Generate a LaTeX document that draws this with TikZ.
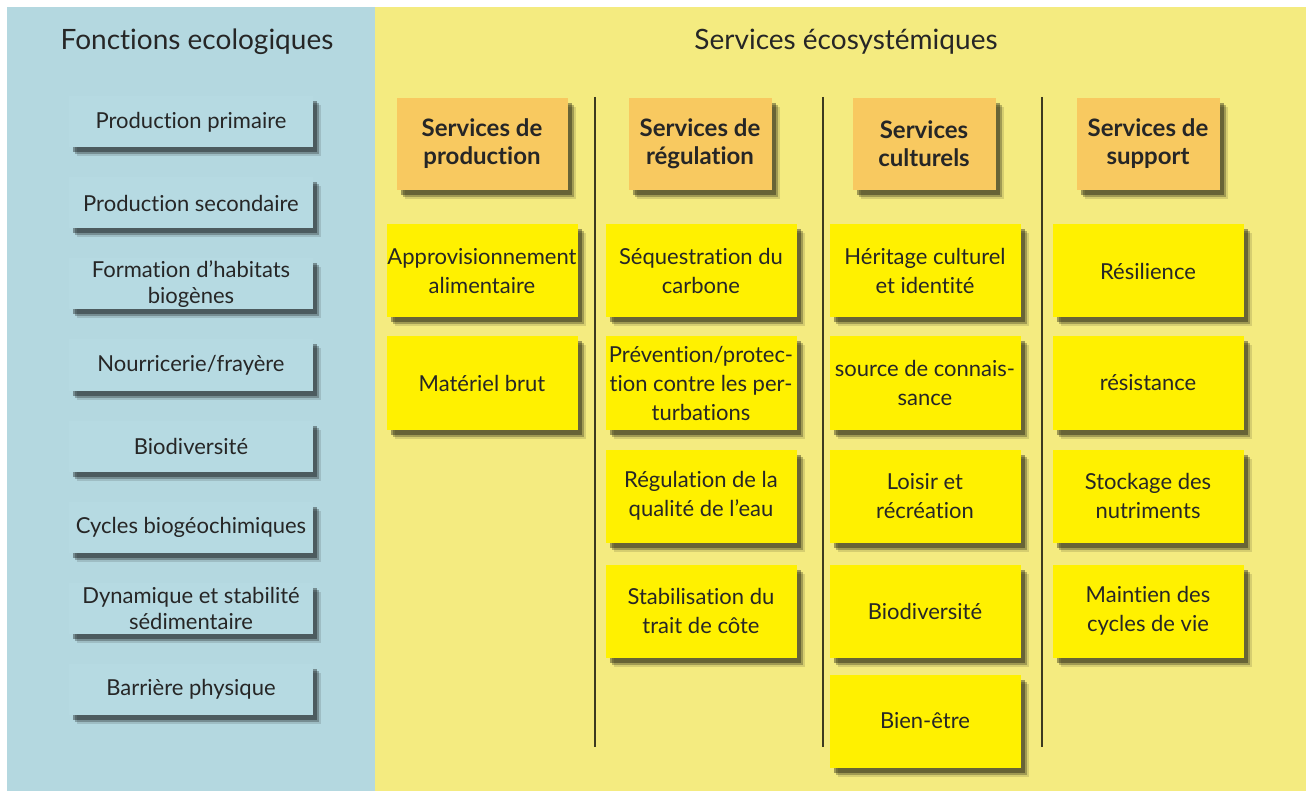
\documentclass[tikz,border=0pt]{standalone}
\usepackage{fontspec}
\setmainfont{Lato}[Ligatures={NoCommon}]
\usetikzlibrary{shadows}
\definecolor{bluebg}{HTML}{B4D8E0}
\definecolor{bluebox}{HTML}{B6DAE2}
\definecolor{yellowbg}{HTML}{F4EB80}
\definecolor{headbox}{HTML}{F8C960}
\definecolor{itembox}{HTML}{FFF100}
\definecolor{txt}{HTML}{262626}
\definecolor{sep}{HTML}{3C3A20}
\tikzset{
  softshadow/.style={
    drop shadow={shadow xshift=8pt, shadow yshift=-9pt, fill=black, opacity=0.12},
    drop shadow={shadow xshift=6pt, shadow yshift=-7pt, fill=black, opacity=0.25},
    drop shadow={shadow xshift=4pt, shadow yshift=-5pt, fill=black, opacity=0.35}},
  fbox/.style={softshadow, fill=bluebox, minimum width=244pt, minimum height=51pt,
    inner sep=0pt, align=center, text=txt, font=\fontsize{22}{26}\selectfont},
  hbox/.style={softshadow, fill=headbox, minimum width=143pt, minimum height=92pt,
    inner sep=0pt, align=center, text=txt, font=\bfseries\fontsize{24}{28}\selectfont},
  ibox/.style={softshadow, fill=itembox, minimum width=191pt, minimum height=93pt,
    inner sep=0pt, align=center, text=txt, font=\fontsize{22}{29}\selectfont},
  ptitle/.style={text=txt, font=\fontsize{28}{32}\selectfont, inner sep=0pt},
  sepline/.style={draw=sep, line width=2pt}
}
\begin{document}
\begin{tikzpicture}[x=1pt,y=-1pt]
\useasboundingbox (0,0) rectangle (1306,791);
\fill[white] (0,0) rectangle (1306,791);
\fill[bluebg] (7,7) rectangle (375,791);
\fill[yellowbg] (375,7) rectangle (1306,791);

\node[ptitle] (t1) at (197,42) {Fonctions ecologiques};
\node[ptitle] (t2) at (846,42) {Services écosystémiques};

\node[fbox] (f1) at (191,122) {Production primaire};
\node[fbox] (f2) at (191,203) {Production secondaire};
\node[fbox] (f3) at (191,284) {Formation d’habitats\\biogènes};
\node[fbox] (f4) at (191,365) {Nourricerie/frayère};
\node[fbox] (f5) at (191,446) {Biodiversité};
\node[fbox] (f6) at (191,527) {Cycles biogéochimiques};
\node[fbox] (f7) at (191,608) {Dynamique et stabilité\\sédimentaire};
\node[fbox] (f8) at (191,689) {Barrière physique};

\coordinate (s1a) at (595,97); \coordinate (s1b) at (595,747);
\coordinate (s2a) at (823,97); \coordinate (s2b) at (823,747);
\coordinate (s3a) at (1042,97); \coordinate (s3b) at (1042,747);
\draw[sepline] (s1a) -- (s1b);
\draw[sepline] (s2a) -- (s2b);
\draw[sepline] (s3a) -- (s3b);

\node[hbox, minimum width=171pt] (h1) at (482,144) {Services de\\production};
\node[hbox] (h2) at (700,144) {Services de\\régulation};
\node[hbox] (h3) at (924,144) {Services\\culturels};
\node[hbox] (h4) at (1148,144) {Services de\\support};

\node[ibox] (a1) at (482,271) {Approvisionnement\\alimentaire};
\node[ibox] (a2) at (482,383) {Matériel brut};

\node[ibox] (b1) at (701,271) {Séquestration du\\carbone};
\node[ibox] (b2) at (701,383) {Prévention/protec-\\tion contre les per-\\turbations};
\node[ibox] (b3) at (701,496) {Régulation de la\\qualité de l’eau};
\node[ibox] (b4) at (701,611) {Stabilisation du\\trait de côte};

\node[ibox] (c1) at (925,271) {Héritage culturel\\et identité};
\node[ibox] (c2) at (925,383) {source de connais-\\sance};
\node[ibox] (c3) at (925,496) {Loisir et\\récréation};
\node[ibox] (c4) at (925,611) {Biodiversité};
\node[ibox] (c5) at (925,721) {Bien-être};

\node[ibox] (d1) at (1148,271) {Résilience};
\node[ibox] (d2) at (1148,383) {résistance};
\node[ibox] (d3) at (1148,496) {Stockage des\\nutriments};
\node[ibox] (d4) at (1148,611) {Maintien des\\cycles de vie};
\end{tikzpicture}
\end{document}
